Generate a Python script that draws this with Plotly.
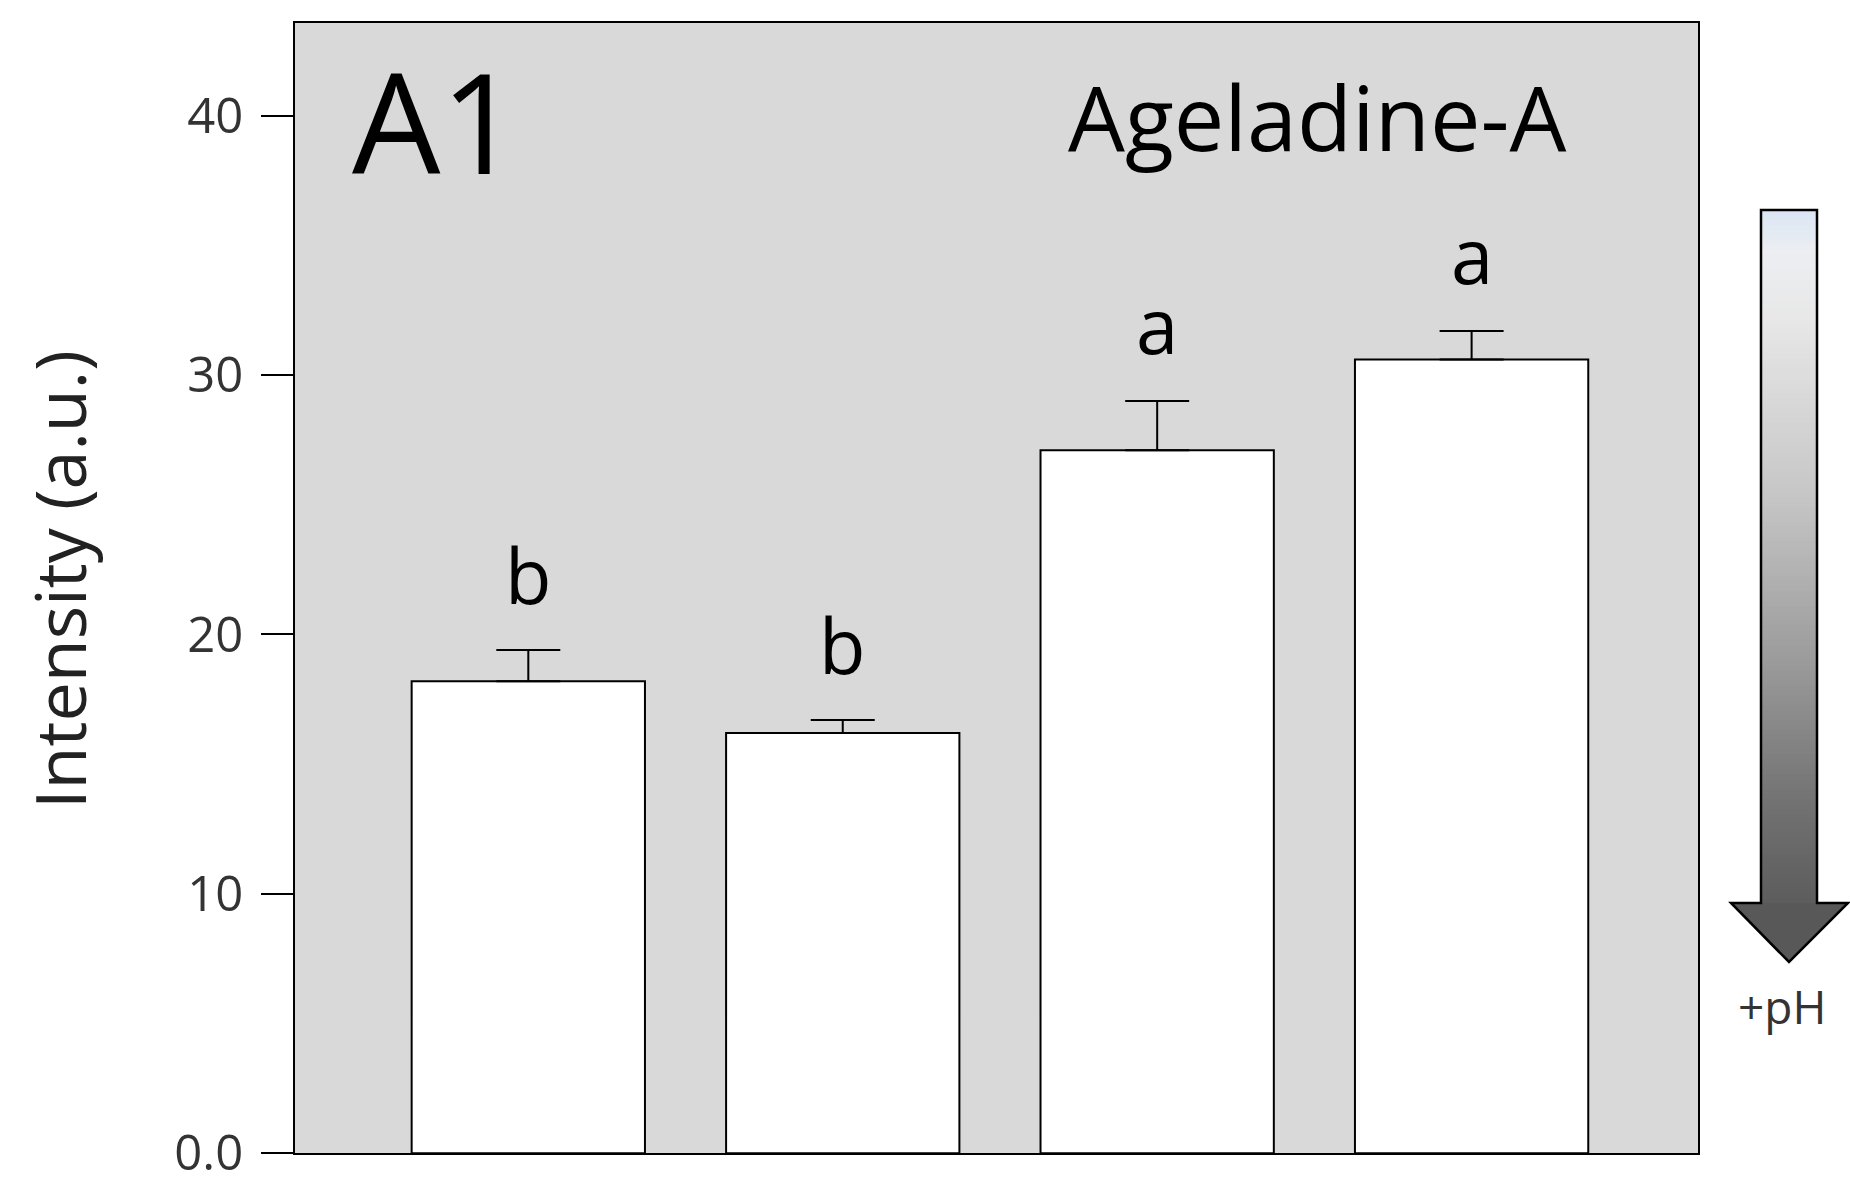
import plotly.graph_objects as go

# ---- data ----
categories = ["C1", "C2", "C3", "C4"]
intensity = [18.2, 16.2, 27.1, 30.6]
err_plus = [1.2, 0.5, 1.9, 1.1]
sig_letters = ["b", "b", "a", "a"]
y_tick_vals = [0, 10, 20, 30, 40]
y_tick_text = ["0.0", "10", "20", "30", "40"]
panel_label = "A1"
compound = "Ageladine-A"
y_title = "Intensity (a.u.)"
arrow_label = "+pH"

W, H = 1850, 1187
FONT = "Open Sans"


def px(x):
    return x / W


def py(y):
    return 1 - y / H


fig = go.Figure()
fig.add_trace(go.Bar(
    x=categories, y=intensity, width=0.742,
    marker=dict(color="white", line=dict(color="black", width=2)),
    error_y=dict(type="data", array=err_plus, arrayminus=[0] * len(err_plus),
                 symmetric=False, color="black", thickness=2, width=32),
    showlegend=False, hoverinfo="skip",
))

annotations = []
for c, v, e, s in zip(categories, intensity, err_plus, sig_letters):
    annotations.append(dict(x=c, y=v + e, xref="x", yref="y", text=s, showarrow=False,
                            yanchor="middle", xanchor="center", yshift=76,
                            font=dict(family=FONT, size=76, color="black")))

annotations += [
    dict(x=px(436), y=py(119), xref="paper", yref="paper", text=panel_label, showarrow=False,
         xanchor="center", yanchor="middle", font=dict(family=FONT, size=140, color="black")),
    dict(x=px(1317), y=py(116), xref="paper", yref="paper", text=compound, showarrow=False,
         xanchor="center", yanchor="middle", font=dict(family=FONT, size=90, color="black")),
    dict(x=px(59), y=py(580), xref="paper", yref="paper", text=y_title, showarrow=False,
         textangle=-90, xanchor="center", yanchor="middle",
         font=dict(family=FONT, size=70, color="#222222")),
    dict(x=px(1782), y=py(1006), xref="paper", yref="paper", text=arrow_label, showarrow=False,
         xanchor="center", yanchor="middle", font=dict(family=FONT, size=46, color="#333333")),
]

# ---- decorative gradient arrow (paper coordinates) ----
shapes = []
sx0, sx1, stop_, sbot = 1761, 1817, 210, 903
hx0, hx1, tipx, tipy = 1731, 1848, 1789, 962
stops = [(0.0, (217, 229, 243)), (0.06, (236, 238, 242)), (0.15, (232, 232, 232)),
         (0.40, (200, 200, 200)), (0.65, (155, 155, 155)), (0.85, (115, 115, 115)),
         (1.0, (92, 92, 92))]


def col(t):
    for (t0, c0), (t1, c1) in zip(stops[:-1], stops[1:]):
        if t0 <= t <= t1:
            f = (t - t0) / (t1 - t0) if t1 > t0 else 0
            return "rgb(%d,%d,%d)" % tuple(round(a + (b - a) * f) for a, b in zip(c0, c1))
    return "rgb(92,92,92)"


n = 140
for i in range(n):
    y0 = stop_ + (sbot - stop_) * i / n
    y1 = stop_ + (sbot - stop_) * (i + 1) / n + 0.8
    shapes.append(dict(type="rect", xref="paper", yref="paper", x0=px(sx0), x1=px(sx1),
                       y0=py(y1), y1=py(y0), fillcolor=col((i + 0.5) / n),
                       line=dict(width=0), layer="above"))
path = "M {a},{b} L {c},{b} L {c},{d} L {e},{d} L {f},{g} L {h},{d} L {i},{d} Z".format(
    a=px(sx0), b=py(stop_), c=px(sx1), d=py(sbot), e=px(hx1), f=px(tipx), g=py(tipy),
    h=px(hx0), i=px(sx0))
head = "M {a},{b} L {c},{b} L {d},{e} Z".format(a=px(hx0), b=py(sbot), c=px(hx1),
                                                d=px(tipx), e=py(tipy))
shapes.append(dict(type="path", xref="paper", yref="paper", path=head,
                   fillcolor="rgb(88,88,88)", line=dict(width=0), layer="above"))
shapes.append(dict(type="path", xref="paper", yref="paper", path=path,
                   fillcolor="rgba(0,0,0,0)", line=dict(color="black", width=2.5), layer="above"))

fig.update_layout(
    width=W, height=H, autosize=False,
    margin=dict(l=0, r=0, t=0, b=0, pad=0, autoexpand=False),
    paper_bgcolor="white", plot_bgcolor="#d9d9d9",
    font=dict(family=FONT),
    xaxis=dict(domain=[px(295), px(1698)], range=[-0.742, 3.72], showline=True,
               linecolor="black", linewidth=2, mirror=True, showticklabels=False,
               ticks="", showgrid=False, zeroline=False, automargin=False),
    yaxis=dict(domain=[py(1153.3), py(23)], range=[0, 43.57], tickvals=y_tick_vals,
               ticktext=y_tick_text, ticks="outside", ticklen=32, tickwidth=2,
               tickcolor="black", showline=True, linecolor="black", linewidth=2,
               mirror=True, showgrid=False, zeroline=False, automargin=False,
               ticklabelstandoff=8,
               tickfont=dict(family=FONT, size=49, color="#333333")),
    annotations=annotations,
    shapes=shapes,
    bargap=0.258,
)

fig.write_html("out.html")
